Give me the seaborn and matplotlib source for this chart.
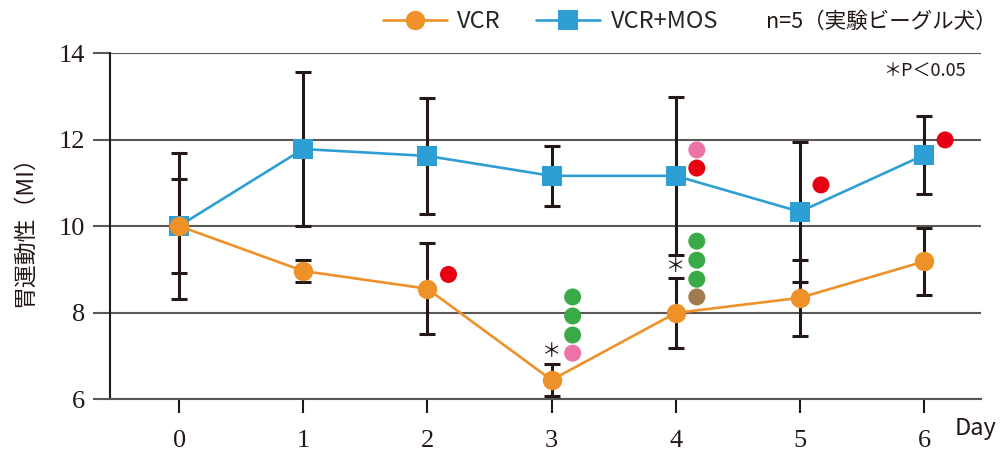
import matplotlib
matplotlib.use("Agg")
import matplotlib.pyplot as plt
import seaborn as sns
import pandas as pd
from matplotlib.lines import Line2D

days = [0, 1, 2, 3, 4, 5, 6]
vcr = [10.0, 8.96, 8.55, 6.44, 7.99, 8.34, 9.18]
vcr_err = [1.09, 0.25, 1.05, 0.36, 0.8, 0.88, 0.78]
vcr_mos = [10.0, 11.78, 11.62, 11.16, 11.16, 10.33, 11.64]
vcr_mos_err = [1.68, 1.77, 1.34, 0.7, 1.83, 1.62, 0.91]

# significance dots (day, value, colour kind)
dot_days = [2, 3, 3, 3, 3, 4, 4, 4, 4, 4, 4, 5, 6]
dot_vals = [8.88, 8.36, 7.92, 7.48, 7.06, 11.76, 11.34, 9.65, 9.21, 8.77, 8.36, 10.95, 11.99]
dot_kinds = ["red", "green", "green", "green", "pink", "pink", "red",
             "green", "green", "green", "brown", "red", "red"]

star_days = [3, 4]
star_vals = [7.11, 9.06]

ORANGE = "#ee9129"
BLUE = "#2e9fd5"
INK = "#231815"
GRID = "#5a5757"
dot_colors = {"red": "#e60012", "green": "#3aa948", "pink": "#ec72a8", "brown": "#a27a4f"}

sns.set_style("white")
plt.rcParams["font.family"] = ["Noto Sans CJK JP", "DejaVu Sans"]

df = pd.DataFrame({
    "day": days * 2,
    "value": vcr_mos + vcr,
    "group": ["VCR+MOS"] * len(days) + ["VCR"] * len(days),
})

fig = plt.figure(figsize=(10.04, 4.5), dpi=100)
ax = fig.add_axes([0.1096, 0.1133, 0.8675, 0.7689])

# error bars behind the markers
ax.errorbar(days, vcr_mos, yerr=vcr_mos_err, fmt="none", ecolor=INK,
            elinewidth=2.2, capsize=5.5, capthick=2.2, zorder=3)
ax.errorbar(days, vcr, yerr=vcr_err, fmt="none", ecolor=INK,
            elinewidth=2.2, capsize=5.5, capthick=2.2, zorder=3)

sns.lineplot(data=df, x="day", y="value", hue="group", style="group",
             palette={"VCR": ORANGE, "VCR+MOS": BLUE},
             markers={"VCR": "o", "VCR+MOS": "s"}, dashes=False,
             markersize=14, markeredgewidth=0, linewidth=1.9,
             legend=False, ax=ax, zorder=4)

dots = pd.DataFrame({"x": [d + 0.17 for d in dot_days], "y": dot_vals, "kind": dot_kinds})
sns.scatterplot(data=dots, x="x", y="y", hue="kind", palette=dot_colors,
                s=150, linewidth=0, legend=False, ax=ax, zorder=5)

for d, v in zip(star_days, star_vals):
    ax.text(d, v, "＊", ha="center", va="center", fontsize=14, color=INK, zorder=6)

ax.set_xlim(-0.556, 6.459)
ax.set_ylim(6, 14)
ax.set_xticks(days)
ax.set_yticks([6, 8, 10, 12, 14])
ax.yaxis.grid(True, color=GRID, linewidth=1.5)
ax.xaxis.grid(False)
ax.set_axisbelow(True)
for s in ["top", "right"]:
    ax.spines[s].set_visible(False)
ax.spines["left"].set_color(INK)
ax.spines["left"].set_linewidth(1.5)
ax.spines["bottom"].set_color(GRID)
ax.spines["bottom"].set_linewidth(1.5)
ax.tick_params(axis="y", direction="out", length=12, width=1.5, color=GRID, pad=6, left=True)
ax.tick_params(axis="x", direction="out", length=10, width=1.5, color=INK, pad=12, bottom=True)
for lab in ax.get_xticklabels() + ax.get_yticklabels():
    lab.set_fontfamily("Liberation Serif")
    lab.set_fontsize(19)
    lab.set_color(INK)
ax.set_xlabel("")
ax.set_ylabel("胃運動性（MI）", fontsize=16.5, color=INK, labelpad=16)

handles = [
    Line2D([], [], color=ORANGE, marker="o", markersize=14, markeredgewidth=0, linewidth=1.9),
    Line2D([], [], color=BLUE, marker="s", markersize=14, markeredgewidth=0, linewidth=1.9),
]
fig.legend(handles, ["VCR", "VCR+MOS"], loc="center left", bbox_to_anchor=(0.372, 0.952),
           ncol=2, frameon=False, fontsize=17, handlelength=2.7, handletextpad=0.45,
           columnspacing=1.5, borderaxespad=0)
fig.text(0.763, 0.952, "n=5（実験ビーグル犬）", fontsize=15.5, color=INK, va="center", ha="left")
fig.text(0.962, 0.84, "＊P＜0.05", fontsize=13, color=INK, va="center", ha="right")
fig.text(0.951, 0.048, "Day", fontsize=17, color=INK, va="center", ha="left")

fig.savefig("out.png", dpi=100)
